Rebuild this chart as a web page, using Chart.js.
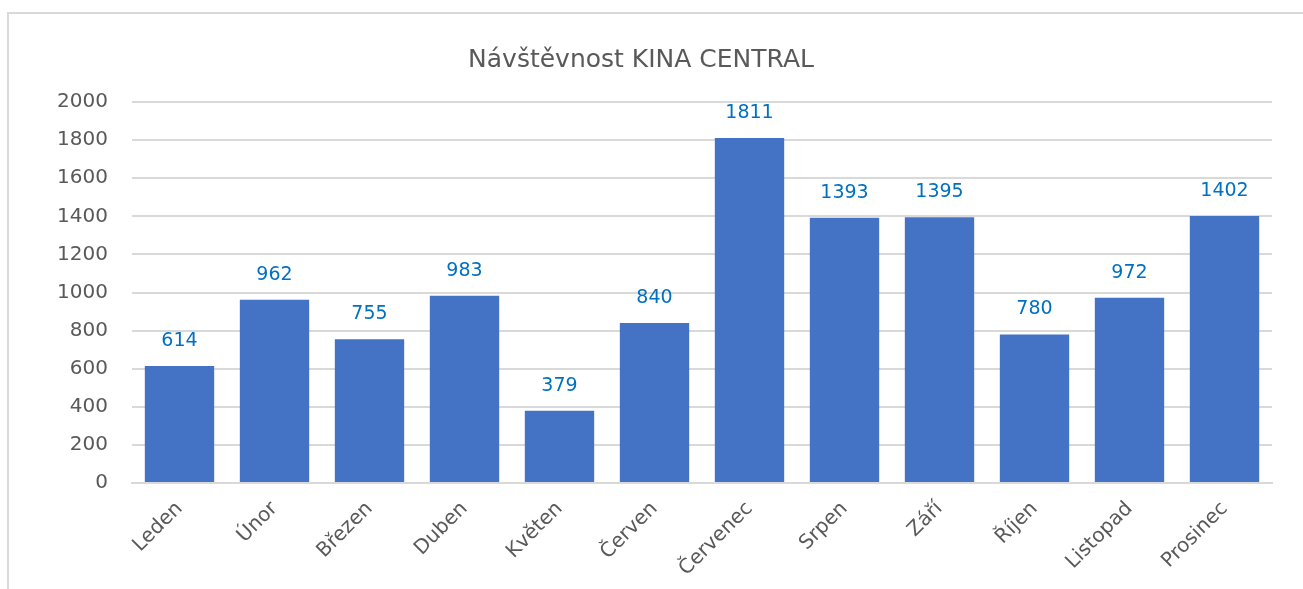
<!DOCTYPE html>
<html>
<head>
<meta charset="utf-8">
<script src="https://cdn.jsdelivr.net/npm/chart.js@4/dist/chart.umd.min.js"></script>
<style>
    html, body { margin: 0; padding: 0; background: #fff; overflow: hidden; }
    #frame {
        position: absolute; left: 7px; top: 12px;
        width: 1400px; height: 700px;
        border: 2px solid #d9d9d9; box-sizing: border-box;
    }
    #wrap { position: absolute; left: 0; top: 0; width: 1303px; height: 589px; }
</style>
</head>
<body>
<div id="frame"></div>
<div id="wrap"><canvas id="chart"></canvas></div>
<script>
// Data
const months = ['Leden', 'Únor', 'Březen', 'Duben', 'Květen', 'Červen', 'Červenec', 'Srpen', 'Září', 'Říjen', 'Listopad', 'Prosinec'];
const visitors = [614, 962, 755, 983, 379, 840, 1811, 1393, 1395, 780, 972, 1402];
const yTicks = [0, 200, 400, 600, 800, 1000, 1200, 1400, 1600, 1800, 2000];

const fontFamily = '"DejaVu Sans", sans-serif';

// Value labels above bars
const barLabels = {
    id: 'barLabels',
    afterDatasetsDraw(chart) {
        const ctx = chart.ctx;
        const meta = chart.getDatasetMeta(0);
        ctx.save();
        ctx.fillStyle = '#0070C0';
        ctx.font = '19px ' + fontFamily;
        ctx.textAlign = 'center';
        ctx.textBaseline = 'middle';
        meta.data.forEach((bar, i) => {
            ctx.fillText(String(visitors[i]), bar.x, bar.y - 25);
        });
        ctx.restore();
    }
};

new Chart(document.getElementById('chart'), {
    type: 'bar',
    data: {
        labels: months,
        datasets: [{
            data: visitors,
            backgroundColor: '#4472C4',
            categoryPercentage: 1,
            barPercentage: 0.73
        }]
    },
    options: {
        responsive: true,
        maintainAspectRatio: false,
        animation: false,
        layout: { padding: { left: 10, right: 31, top: 12, bottom: 0 } },
        plugins: {
            legend: { display: false },
            tooltip: { enabled: false },
            title: {
                display: true,
                text: 'Návštěvnost KINA CENTRAL',
                color: '#595959',
                font: { family: fontFamily, size: 25, weight: 'normal' },
                padding: { top: 33, bottom: 27 }
            }
        },
        scales: {
            x: {
                grid: { display: false },
                border: { color: '#d9d9d9', width: 2 },
                ticks: {
                    color: '#595959',
                    font: { family: fontFamily, size: 20 },
                    minRotation: 45,
                    maxRotation: 45,
                    padding: 6
                },
                afterFit(scale) { scale.height = 106; }
            },
            y: {
                min: 0,
                max: 2000,
                afterBuildTicks(scale) { scale.ticks = yTicks.map(v => ({ value: v })); },
                grid: { color: '#d9d9d9', lineWidth: 2, drawTicks: false },
                border: { display: false },
                ticks: {
                    color: '#595959',
                    font: { family: fontFamily, size: 20 },
                    padding: 24,
                    callback: (value) => String(value)
                },
                afterFit(scale) { scale.width = 122; }
            }
        }
    },
    plugins: [barLabels]
});
</script>
</body>
</html>
